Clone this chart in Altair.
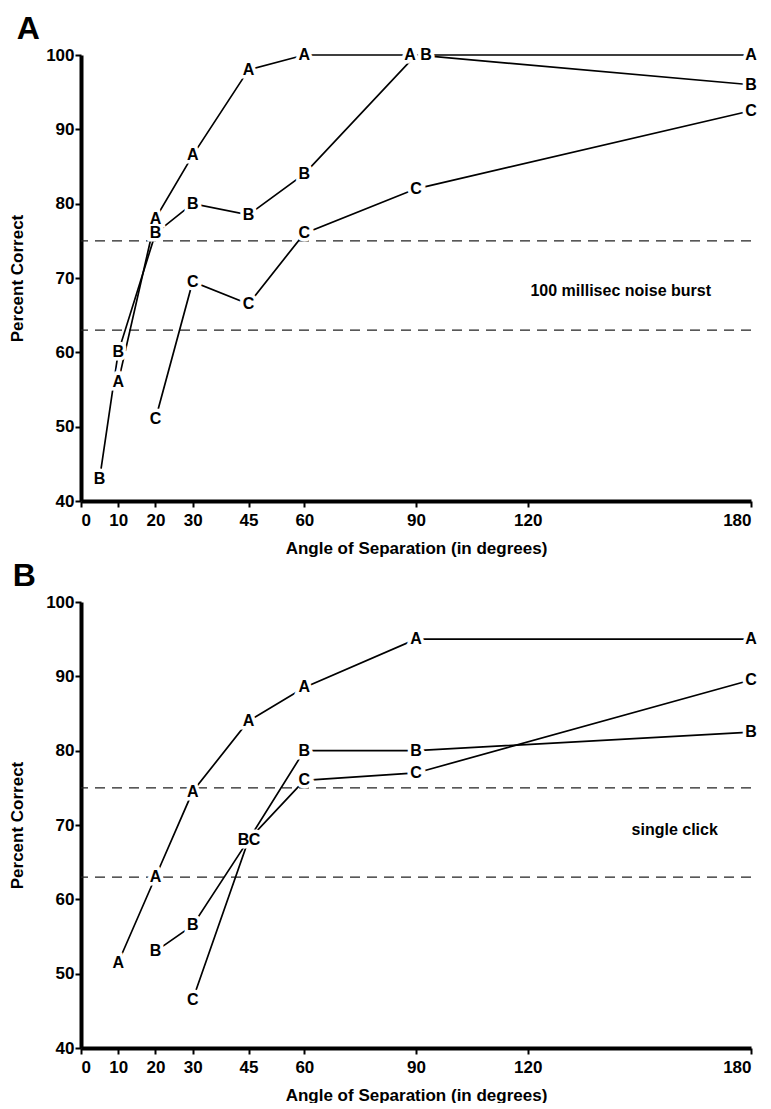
import altair as alt
import pandas as pd

FONT = "Liberation Sans"

# axis ticks
x_ticks = [0, 10, 20, 30, 45, 60, 90, 120, 180]
y_ticks = [40, 50, 60, 70, 80, 90, 100]
criteria = [75, 63]

# Panel A: 100 millisec noise burst
a_A_x = [10, 20, 30, 45, 60, 90, 180]
a_A_y = [56, 78, 86.5, 98, 100, 100, 100]
a_B_x = [5, 10, 20, 30, 45, 60, 90, 180]
a_B_y = [43, 60, 76, 80, 78.5, 84, 100, 96]
a_C_x = [20, 30, 45, 60, 90, 180]
a_C_y = [51, 69.5, 66.5, 76, 82, 92.5]

# Panel B: single click
b_A_x = [10, 20, 30, 45, 60, 90, 180]
b_A_y = [51.5, 63, 74.5, 84, 88.5, 95, 95]
b_B_x = [20, 30, 45, 60, 90, 180]
b_B_y = [53, 56.5, 68, 80, 80, 82.5]
b_C_x = [30, 45, 60, 90, 180]
b_C_y = [46.5, 68, 76, 77, 89.5]

# letters that share a point are nudged apart
label_shift = {("A", "A", 90): -6, ("A", "B", 90): 10,
               ("B", "B", 45): -5, ("B", "C", 45): 6}


def frame(panel, name, xs, ys):
    return pd.DataFrame({"panel": panel, "series": name, "angle": xs, "pct": ys})


def make_df(panel, parts):
    df = pd.concat([frame(panel, n, xs, ys) for n, xs, ys in parts], ignore_index=True)
    df["lshift"] = [label_shift.get((panel, s, a), 0) for s, a in zip(df["series"], df["angle"])]
    return df


dfA = make_df("A", [("A", a_A_x, a_A_y), ("B", a_B_x, a_B_y), ("C", a_C_x, a_C_y)])
dfB = make_df("B", [("A", b_A_x, b_A_y), ("B", b_B_x, b_B_y), ("C", b_C_x, b_C_y)])


def make_panel(letter, data, note, note_x, note_y, title_dx):
    xs = alt.Scale(domain=[0, 180], nice=False)
    ys = alt.Scale(domain=[40, 100], nice=False, zero=False)
    x_enc = alt.X("angle:Q", scale=xs,
                  axis=alt.Axis(values=x_ticks, title="Angle of Separation (in degrees)",
                                labelPadding=5, titlePadding=12, format="d"))
    y_enc = alt.Y("pct:Q", scale=ys,
                  axis=alt.Axis(values=y_ticks, title="Percent Correct",
                                labelPadding=1, titlePadding=19, format="d"))
    crit = pd.DataFrame({"pct": criteria})
    rules = alt.Chart(crit).mark_rule(strokeDash=[10, 7], strokeWidth=1.2, color="#222").encode(y=y_enc)
    lines = alt.Chart(data).mark_line(color="black", strokeWidth=1.7).encode(
        x=x_enc, y=y_enc, detail="series:N", order="angle:Q")
    halos, labels = [], []
    for s in sorted(set(data["lshift"])):
        sub = alt.Chart(data).transform_filter(alt.datum.lshift == int(s))
        halos.append(sub.mark_text(dx=int(s), fontSize=16, fontWeight="bold", font=FONT,
                                   color="white", stroke="white", strokeWidth=7).encode(
            x=x_enc, y=y_enc, text="series:N"))
        labels.append(sub.mark_text(dx=int(s), fontSize=16, fontWeight="bold", font=FONT,
                                    color="black").encode(x=x_enc, y=y_enc, text="series:N"))
    note_df = pd.DataFrame({"angle": [note_x], "pct": [note_y], "note": [note]})
    note_layer = alt.Chart(note_df).mark_text(fontSize=16, fontWeight="bold", font=FONT,
                                              color="black").encode(x=x_enc, y=y_enc, text="note:N")
    return alt.layer(rules, lines, *halos, *labels, note_layer).properties(
        width=670, height=446,
        title=alt.TitleParams(letter, anchor="start", fontSize=32, fontWeight="bold",
                              font=FONT, color="black", dx=title_dx, offset=0))


panelA = make_panel("A", dfA, "100 millisec noise burst", 145, 68.2, 8)
panelB = make_panel("B", dfB, "single click", 159.5, 69.3, 4)

chart = alt.vconcat(panelA, panelB, spacing=4).properties(
    padding={"left": 0, "top": 5, "right": 0, "bottom": 0},
    background="white"
).configure_view(stroke=None).configure_axis(
    grid=False, domainColor="black", domainWidth=4, tickColor="black", tickWidth=2,
    tickSize=6, labelFont=FONT, labelFontSize=17, labelFontWeight="bold", labelColor="black",
    titleFont=FONT, titleFontSize=17, titleFontWeight="bold", titleColor="black"
)

chart.save("out.html", embed_options={"renderer": "svg", "actions": False})
